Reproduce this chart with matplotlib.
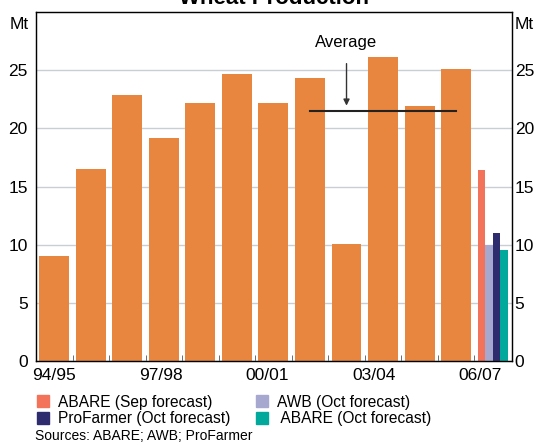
import matplotlib.pyplot as plt
from matplotlib.patches import Patch

plt.rcParams['font.family'] = ['Liberation Sans', 'DejaVu Sans']

# Annual wheat production (Mt)
seasons = ['94/95', '95/96', '96/97', '97/98', '98/99', '99/00',
           '00/01', '01/02', '02/03', '03/04', '04/05', '05/06']
production = [9.0, 16.5, 22.9, 19.2, 22.2, 24.7, 22.2, 24.3, 10.1, 26.1, 21.9, 25.1]

# 06/07 forecasts (Mt)
forecast_names = ['ABARE (Sep forecast)', 'AWB (Oct forecast)',
                  'ProFarmer (Oct forecast)', ' ABARE (Oct forecast)']
forecast_values = [16.4, 10.0, 11.0, 9.5]
forecast_colors = ['#F2725A', '#A6A8D0', '#2E2C6E', '#00A99B']

# five-year average, 01/02 to 05/06
average = 21.5
avg_start, avg_end = 7, 11

label_seasons = ['94/95', '97/98', '00/01', '03/04', '06/07']
label_idx = [0, 3, 6, 9, 12]

fig = plt.figure(figsize=(5.35, 4.43), dpi=100)
ax = fig.add_axes([0.0673, 0.1851, 0.8897, 0.7878])

ax.bar(range(len(production)), production, width=0.82, color='#E8863F', zorder=2)

n = len(forecast_values)
w = 0.205
for k in range(n):
    ax.bar(12 + (k - (n - 1) / 2) * w, forecast_values[k], width=w,
           color=forecast_colors[k], zorder=2)

ax.plot([avg_start, avg_end], [average, average], color='#222222', lw=1.5, zorder=3)
ax.annotate('Average', xy=(8.0, average + 0.45), xytext=(8.0, 27.4),
            ha='center', va='center', fontsize=12,
            arrowprops=dict(arrowstyle='-|>', color='#333333', lw=1,
                            mutation_scale=9, shrinkA=8, shrinkB=0))

ax.set_xlim(-0.5, 12.53)
ax.set_ylim(0, 30)
ax.set_yticks([0, 5, 10, 15, 20, 25])
ax.grid(axis='y', color='#C9CED3', lw=1, zorder=0)
# labels in the original drift slightly left of the bar centres
ax.set_xticks([i * 0.972 for i in label_idx])
ax.set_xticklabels(label_seasons)
ax.set_xticks([i + 0.5 for i in range(12)], minor=True)
ax.tick_params(axis='x', which='major', length=0, pad=5, labelsize=12.5)
ax.tick_params(axis='x', which='minor', direction='in', length=4, color='#555555')
ax.tick_params(axis='y', length=0, pad=6, labelsize=12.5)
for s in ax.spines.values():
    s.set_color('#222222')
    s.set_linewidth(1)

ax2 = ax.twinx()
ax2.set_ylim(0, 30)
ax2.set_yticks([0, 5, 10, 15, 20, 25])
ax2.tick_params(axis='y', length=0, pad=2, labelsize=12.5)

ax.text(-0.015, 0.985, 'Mt', transform=ax.transAxes, ha='right', va='top', fontsize=12.5)
ax.text(1.005, 0.985, 'Mt', transform=ax.transAxes, ha='left', va='top', fontsize=12.5)

fig.text(0.512, 0.991, 'Wheat Production', ha='center', va='baseline',
         fontsize=16, fontweight='bold')

# legend, filled row by row
order = [0, 2, 1, 3]
handles = [Patch(color=forecast_colors[i]) for i in order]
labels = [forecast_names[i] for i in order]
fig.legend(handles, labels, ncol=2, loc='upper left', bbox_to_anchor=(0.054, 0.127),
           frameon=False, fontsize=11.2, handlelength=0.8, handleheight=0.8,
           handletextpad=0.6, columnspacing=1.6, labelspacing=0.1, borderpad=0)

fig.text(0.066, 0.001, 'Sources: ABARE; AWB; ProFarmer', fontsize=10, va='bottom')

fig.savefig('out.png', dpi=100)
